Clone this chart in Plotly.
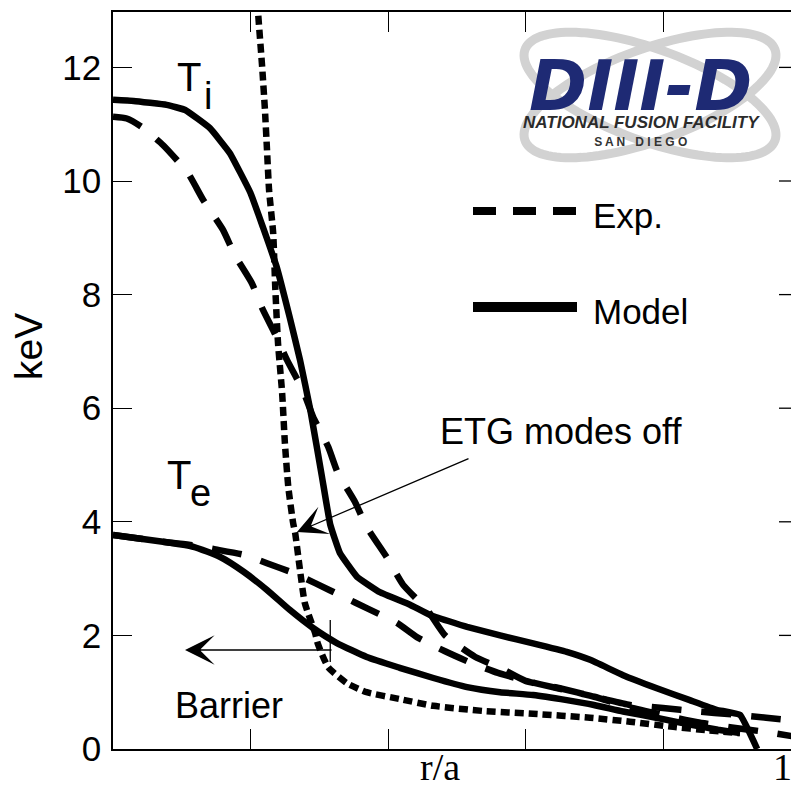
import numpy as np
import plotly.graph_objects as go

# ---------------- data ----------------
r_ti_model = [0, 0.03, 0.078, 0.105, 0.141, 0.17, 0.2, 0.218, 0.238, 0.257, 0.272, 0.287,
              0.304, 0.316, 0.33, 0.355, 0.388, 0.432, 0.461, 0.515, 0.563, 0.611, 0.66,
              0.694, 0.742, 0.791, 0.839, 0.878, 0.912, 0.937]
ti_model = [11.43, 11.41, 11.34, 11.25, 10.93, 10.49, 9.79, 9.19, 8.49, 7.6, 6.85, 5.97,
            4.79, 3.95, 3.45, 3.03, 2.76, 2.54, 2.36, 2.15, 2.0, 1.86, 1.71,
            1.57, 1.3, 1.07, 0.86, 0.69, 0.6, 0.0]

r_ti_exp = [0, 0.02, 0.042, 0.073, 0.109, 0.131, 0.16, 0.177, 0.202, 0.217, 0.238, 0.253,
            0.276, 0.291, 0.313, 0.327, 0.352, 0.369, 0.398, 0.422, 0.457, 0.483, 0.527,
            0.563, 0.6, 0.65, 0.7, 0.75, 0.8, 0.85, 0.9, 0.95, 0.99]
ti_exp = [11.13, 11.1, 10.95, 10.63, 10.14, 9.67, 9.14, 8.7, 8.2, 7.76, 7.25, 6.85,
          6.32, 5.85, 5.32, 4.86, 4.35, 3.91, 3.38, 2.89, 2.45, 2.0, 1.62,
          1.43, 1.2, 1.07, 0.92, 0.78, 0.72, 0.66, 0.61, 0.55, 0.5]

r_te_exp = [0, 0.078, 0.115, 0.146, 0.19, 0.224, 0.262, 0.294, 0.335, 0.369, 0.413, 0.442,
            0.483, 0.52, 0.56, 0.6, 0.65, 0.7, 0.75, 0.8, 0.85, 0.9, 0.95, 0.99]
te_exp = [3.77, 3.64, 3.59, 3.52, 3.42, 3.27, 3.1, 2.92, 2.68, 2.48, 2.22, 1.97,
          1.72, 1.52, 1.34, 1.2, 1.06, 0.92, 0.74, 0.6, 0.47, 0.38, 0.3, 0.22]

r_te_model = [0, 0.078, 0.117, 0.156, 0.19, 0.224, 0.257, 0.291, 0.325, 0.369, 0.417, 0.466,
              0.515, 0.563, 0.611, 0.66, 0.698, 0.742, 0.79, 0.839, 0.88, 0.912]
te_model = [3.77, 3.64, 3.56, 3.38, 3.12, 2.8, 2.45, 2.13, 1.87, 1.62, 1.43, 1.25,
            1.09, 1.0, 0.95, 0.86, 0.78, 0.66, 0.55, 0.43, 0.34, 0.28]

r_etg_off = [0.209, 0.211, 0.217, 0.221, 0.224, 0.227, 0.233, 0.236, 0.24, 0.246, 0.25,
             0.255, 0.262, 0.265, 0.272, 0.279, 0.294, 0.298, 0.313, 0.34, 0.369, 0.417,
             0.466, 0.538, 0.611, 0.694, 0.752, 0.815, 0.864, 0.912]
te_etg_off = [13.4, 12.97, 12.0, 11.25, 10.55, 9.84, 9.08, 8.13, 7.15, 6.27, 5.39,
              4.61, 3.98, 3.8, 3.15, 2.57, 2.04, 1.85, 1.44, 1.16, 1.0, 0.88,
              0.76, 0.67, 0.62, 0.55, 0.48, 0.39, 0.33, 0.28]

y_ticks = [0, 2, 4, 6, 8, 10, 12]
x_ticks = [0.2, 0.4, 0.6, 0.8]

# ---------------- layout helpers (pixel -> paper) ----------------
W, H = 791, 787
L, T, R, B = 113, 12, 791, 749


def PX(x):
    return (x - L) / (R - L)


def PY(y):
    return (B - y) / (B - T)


SANS = "Liberation Sans, Arial, sans-serif"
SERIF = "Liberation Serif, Times New Roman, serif"
LW = 6.5

fig = go.Figure()


def add_line(x, y, dash, smoothing=0.5):
    fig.add_trace(go.Scatter(x=x, y=y, mode="lines",
                             line=dict(color="black", width=LW, dash=dash,
                                       shape="spline", smoothing=smoothing),
                             showlegend=False, hoverinfo="skip"))


add_line(r_ti_exp, ti_exp, "30px,20px")
add_line(r_te_exp, te_exp, "30px,20px")
add_line(r_ti_model, ti_model, "solid", 0.3)
add_line(r_te_model, te_model, "solid")
add_line(r_etg_off, te_etg_off, "9px,5px")

shapes = []
# right-side tick stubs (the right axis itself lies just outside the picture)
for v in y_ticks[1:]:
    shapes.append(dict(type="line", xref="paper", yref="y", x0=1 - 12 / (R - L), x1=1,
                       y0=v, y1=v, line=dict(color="black", width=1.3)))
# barrier marker line
shapes.append(dict(type="line", xref="x", yref="y", x0=0.316, x1=0.316, y0=1.53, y1=2.27,
                   line=dict(color="black", width=1.3)))
# legend samples
shapes.append(dict(type="line", xref="paper", yref="paper", x0=PX(473), x1=PX(577),
                   y0=PY(211), y1=PY(211), line=dict(color="black", width=8, dash="23px,17px")))
shapes.append(dict(type="line", xref="paper", yref="paper", x0=PX(473), x1=PX(577),
                   y0=PY(307), y1=PY(307), line=dict(color="black", width=10)))

# logo rings
cx, cy, a, b = 650, 95, 133, 46
t = np.linspace(0, 2 * np.pi, 120)
for ang in (20, -20):
    th = np.deg2rad(ang)
    xs = cx + a * np.cos(t) * np.cos(th) - b * np.sin(t) * np.sin(th)
    ys = cy + a * np.cos(t) * np.sin(th) + b * np.sin(t) * np.cos(th)
    path = "M " + " L ".join(f"{PX(u):.5f},{PY(v):.5f}" for u, v in zip(xs, ys)) + " Z"
    shapes.append(dict(type="path", xref="paper", yref="paper", path=path,
                       line=dict(color="#d2d2d2", width=9), layer="below"))

annotations = []


def txt(text, x, y, size, family=SANS, xanchor="center", yanchor="middle", color="black",
        weight="normal", style="normal", angle=0):
    annotations.append(dict(text=text, x=PX(x), y=PY(y), xref="paper", yref="paper",
                            showarrow=False, xanchor=xanchor, yanchor=yanchor, textangle=angle,
                            font=dict(family=family, size=size, color=color,
                                      weight=weight, style=style)))


txt("T", 189, 77, 40)
txt("i", 208, 96, 38)
txt("T", 179, 475, 40)
txt("e", 200, 493, 38)
txt("Exp.", 591, 216, 35, xanchor="left")
txt("Model", 591, 311, 35, xanchor="left")
txt("ETG modes off", 438, 431, 36, xanchor="left")
txt("Barrier", 173, 705, 36, xanchor="left")
txt("keV", 28, 347, 39, angle=-90)
txt("r/a", 440, 767, 38, family=SERIF)
txt("1", 771, 767, 38, family=SERIF, xanchor="left")

# logo text (one block so the lines can sit close together)
logo = ("<span style='font-family:DejaVu Sans;font-size:70px;color:#1e2a74'><b><i>DIII-D</i></b></span>"
        "<br><span style='font-size:17px;color:#2b2b2b'><b><i>NATIONAL FUSION FACILITY</i></b></span>"
        "<br><span style='font-size:12px;color:#333333'><b>S A N   D I E G O</b></span>")
annotations.append(dict(text=logo, x=PX(641), y=PY(43), xref="paper", yref="paper",
                        showarrow=False, xanchor="center", yanchor="top", align="center",
                        font=dict(family=SANS, size=14, color="#2b2b2b")))

# arrows
for (tx, ty, ax, ay) in [(297, 532, 173, -74), (185, 650, 148, 0)]:
    annotations.append(dict(text="", x=PX(tx), y=PY(ty), xref="paper", yref="paper",
                            showarrow=True, ax=ax, ay=ay, arrowhead=3, arrowsize=3.8,
                            arrowwidth=1.3, arrowcolor="black", standoff=0))

fig.update_layout(
    width=W, height=H,
    margin=dict(l=L, r=W - R, t=T, b=H - B, pad=0),
    paper_bgcolor="white", plot_bgcolor="white",
    shapes=shapes, annotations=annotations,
    xaxis=dict(range=[0, (R - L) / 687.5], tickvals=x_ticks, ticks="inside", ticklen=20,
               tickwidth=1.3, tickcolor="black", showticklabels=False, showline=True,
               linecolor="black", linewidth=1.5, mirror="ticks", showgrid=False,
               zeroline=False),
    yaxis=dict(range=[0, (B - T) / 56.8], tickvals=y_ticks, ticks="inside", ticklen=19,
               tickwidth=1.3, tickcolor="black", showline=True, linecolor="black",
               linewidth=1.5, mirror=False, showgrid=False, zeroline=False,
               tickfont=dict(family=SANS, size=35, color="black"),
               ticklabelstandoff=3),
)

fig.write_html("out.html")
